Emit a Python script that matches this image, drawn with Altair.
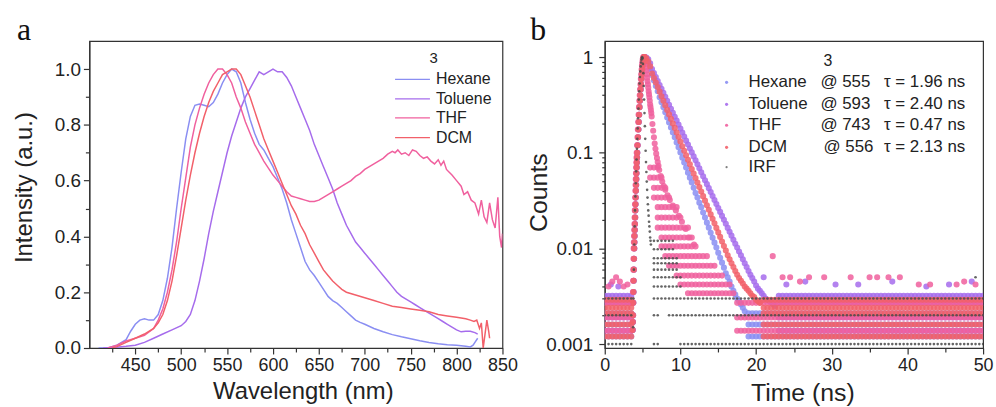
import altair as alt
import pandas as pd

FONT = "Liberation Sans"
SERIF = "Liberation Serif"

# ---------------- Panel a : emission spectra ----------------
solvents = ["Hexane", "Toluene", "THF", "DCM"]
line_colors = ["#8a8ef2", "#a66cec", "#f0609e", "#f2606a"]

hex_wl = [410, 420, 430, 440, 445, 450, 455, 460, 465, 470, 475, 480, 485, 490, 495, 500, 505, 510, 515, 520,
          525, 530, 535, 540, 545, 550, 555, 560, 565, 570, 575, 580, 585, 590, 595, 600, 605, 610, 615, 620,
          625, 630, 635, 640, 645, 650, 655, 660, 665, 670, 675, 680, 685, 690, 695, 700, 710, 720, 730, 740,
          750, 760, 770, 780, 790, 800, 810, 815, 818, 820, 823]
hex_I = [0.0, 0.0, 0.01, 0.03, 0.06, 0.085, 0.1, 0.105, 0.1, 0.1, 0.12, 0.17, 0.25, 0.36, 0.5, 0.63, 0.75, 0.83, 0.87, 0.875,
         0.87, 0.865, 0.88, 0.91, 0.95, 0.98, 1.0, 0.99, 0.95, 0.88, 0.82, 0.77, 0.73, 0.71, 0.68, 0.65, 0.61, 0.57, 0.52, 0.46,
         0.41, 0.36, 0.31, 0.28, 0.26, 0.235, 0.21, 0.185, 0.17, 0.16, 0.145, 0.13, 0.115, 0.1, 0.092, 0.085, 0.07, 0.058, 0.048, 0.04,
         0.033, 0.026, 0.02, 0.015, 0.012, 0.01, 0.006, 0.004, 0.01, 0.02, 0.035]

tol_wl = [415, 430, 440, 450, 460, 470, 480, 490, 500, 505, 510, 515, 520, 525, 530, 535, 540, 545, 550, 555,
          560, 565, 570, 575, 580, 585, 590, 595, 600, 605, 610, 615, 620, 625, 630, 635, 640, 645, 650, 655,
          660, 665, 670, 675, 680, 685, 690, 695, 700, 705, 710, 715, 720, 725, 730, 735, 740, 745, 750, 755,
          760, 765, 770, 775, 780, 785, 790, 795, 800, 805, 810, 815, 820, 823]
tol_I = [0.0, 0.003, 0.006, 0.01, 0.02, 0.035, 0.05, 0.065, 0.08, 0.095, 0.12, 0.17, 0.24, 0.32, 0.41, 0.49, 0.56, 0.63, 0.7, 0.76,
         0.81, 0.86, 0.9, 0.93, 0.96, 0.99, 0.98, 0.99, 1.0, 0.99, 0.99, 0.97, 0.94, 0.9, 0.86, 0.82, 0.78, 0.73, 0.69, 0.65,
         0.61, 0.57, 0.52, 0.48, 0.44, 0.41, 0.38, 0.36, 0.34, 0.32, 0.3, 0.28, 0.26, 0.24, 0.22, 0.2, 0.185, 0.175, 0.165, 0.155,
         0.145, 0.135, 0.125, 0.115, 0.105, 0.095, 0.085, 0.075, 0.065, 0.058, 0.06, 0.06, 0.055, 0.05]

thf_wl = [420, 430, 440, 450, 460, 470, 475, 480, 485, 490, 495, 500, 505, 510, 515, 520, 525, 530, 535, 540,
          545, 550, 555, 560, 565, 570, 575, 580, 585, 590, 595, 600, 605, 610, 615, 620, 625, 630, 635, 640,
          645, 650, 655, 660, 665, 670, 675, 680, 685, 690, 695, 700, 705, 710, 715, 720, 725, 730, 733, 736,
          740, 744, 748, 752, 756, 760, 764, 768, 772, 776, 780, 783, 786, 789, 792, 795, 800, 805, 808, 812,
          816, 820, 824, 827, 830, 833, 836, 839, 842, 845, 847, 849, 850]
thf_I = [0.0, 0.01, 0.025, 0.035, 0.045, 0.07, 0.1, 0.14, 0.2, 0.28, 0.38, 0.5, 0.61, 0.72, 0.8, 0.86, 0.91, 0.95, 0.98, 1.0,
         1.0, 0.98, 0.95, 0.9, 0.86, 0.81, 0.77, 0.73, 0.7, 0.67, 0.645, 0.62, 0.6, 0.58, 0.56, 0.545, 0.54, 0.535, 0.53, 0.525,
         0.525, 0.53, 0.54, 0.55, 0.56, 0.57, 0.58, 0.59, 0.6, 0.615, 0.625, 0.64, 0.65, 0.66, 0.67, 0.68, 0.695, 0.705, 0.7, 0.71,
         0.695, 0.7, 0.69, 0.71, 0.705, 0.69, 0.68, 0.685, 0.67, 0.66, 0.675, 0.655, 0.67, 0.64, 0.63, 0.62, 0.6, 0.58, 0.55, 0.56,
         0.53, 0.52, 0.48, 0.53, 0.47, 0.45, 0.52, 0.46, 0.43, 0.54, 0.4, 0.36, 0.41]

dcm_wl = [425, 430, 440, 450, 460, 470, 475, 480, 485, 490, 495, 500, 505, 510, 515, 520, 525, 530, 535, 540,
          545, 550, 555, 560, 565, 570, 575, 580, 585, 590, 595, 600, 605, 610, 615, 620, 625, 630, 635, 640,
          645, 650, 655, 660, 665, 670, 675, 680, 690, 700, 710, 720, 730, 740, 750, 760, 770, 780, 790, 800,
          810, 815, 819, 822, 825, 827, 829, 831, 833, 835, 836]
dcm_I = [0.0, 0.005, 0.02, 0.035, 0.05, 0.07, 0.09, 0.12, 0.17, 0.24, 0.33, 0.43, 0.53, 0.62, 0.7, 0.77, 0.83, 0.88, 0.92, 0.95,
         0.98, 0.99, 1.0, 1.0, 0.98, 0.94, 0.9, 0.85, 0.8, 0.75, 0.71, 0.67, 0.63, 0.59, 0.55, 0.51, 0.48, 0.44, 0.41, 0.37,
         0.34, 0.31, 0.28, 0.26, 0.24, 0.225, 0.21, 0.2, 0.19, 0.18, 0.17, 0.16, 0.15, 0.145, 0.14, 0.135, 0.13, 0.12, 0.115, 0.11,
         0.105, 0.1, 0.095, 0.1, 0.07, 0.09, 0.0, 0.05, 0.1, 0.06, 0.035]

rows_a = []
for name, wls, vals in zip(solvents, [hex_wl, tol_wl, thf_wl, dcm_wl], [hex_I, tol_I, thf_I, dcm_I]):
    for w, v in zip(wls, vals):
        rows_a.append({"solvent": name, "wl": w, "I": v})
df_a = pd.DataFrame(rows_a)

# ---------------- Panel b : decays ----------------
series_b = ["Hexane", "Toluene", "THF", "DCM"]
dot_colors = ["#7f88f2", "#bf6cf2", "#f46cb6", "#f4625f"]
legend_at = ["@ 555", "@ 593", "@ 743", "@ 556"]
legend_tau = ["\u03c4 = 1.96 ns", "\u03c4 = 2.40 ns", "\u03c4 = 0.47 ns", "\u03c4 = 2.13 ns"]

# common rising edge (ns, normalized counts)
rise_t = [3.7, 3.725, 3.75, 3.775, 3.8, 3.825, 3.85, 3.875, 3.9, 3.925, 3.95, 3.975, 4.0, 4.025, 4.05, 4.075,
          4.1, 4.125, 4.15, 4.175, 4.2, 4.225, 4.25, 4.275, 4.3, 4.35, 4.4, 4.45, 4.5, 4.55, 4.6, 4.65, 4.7,
          4.75, 4.8, 4.85, 4.9, 4.95, 5.0, 5.05, 5.1, 5.15, 5.2, 5.25]
rise_c = [0.0014, 0.0017, 0.002, 0.0027, 0.0035, 0.0046, 0.006, 0.0078, 0.01, 0.0116, 0.0135, 0.0156, 0.018, 0.021, 0.025, 0.029,
          0.034, 0.04, 0.046, 0.053, 0.061, 0.07, 0.079, 0.089, 0.1, 0.12, 0.145, 0.175, 0.21, 0.25, 0.3, 0.35, 0.4,
          0.46, 0.52, 0.59, 0.66, 0.74, 0.82, 0.89, 0.95, 0.99, 1.0, 1.0]

decay_t = [5.5, 5.75, 6.0, 6.25, 6.5, 6.75, 7.0, 7.25, 7.5, 7.75, 8.0, 8.25, 8.5, 8.75, 9.0, 9.25, 9.5, 9.75,
           10.0, 10.25, 10.5, 10.75, 11.0, 11.25, 11.5, 11.75, 12.0, 12.25, 12.5, 12.75, 13.0, 13.25, 13.5, 13.75,
           14.0, 14.25, 14.5, 14.75, 15.0, 15.25, 15.5, 15.75, 16.0, 16.25, 16.5, 16.75, 17.0, 17.25, 17.5, 17.75,
           18.0, 18.25, 18.5, 18.75, 19.0, 19.25, 19.5, 19.75, 20.0, 20.25, 20.5, 20.75, 21.0, 21.25, 21.5, 21.75,
           22.0, 22.25, 22.5]
hex_c = [0.95, 0.85, 0.75, 0.65, 0.57, 0.5, 0.44, 0.38, 0.337, 0.299, 0.265, 0.234, 0.208, 0.184, 0.163, 0.145, 0.128, 0.114,
         0.101, 0.089, 0.079, 0.07, 0.062, 0.055, 0.049, 0.043, 0.038, 0.034, 0.03, 0.027, 0.0237, 0.021, 0.0186, 0.0165,
         0.0146, 0.0129, 0.0115, 0.0102, 0.009, 0.008, 0.0071, 0.0063, 0.0055, 0.005, 0.0045, 0.004, 0.0036, 0.0033, 0.003, 0.0028,
         0.0026, 0.0024, 0.0022]
tol_c = [0.99, 0.95, 0.86, 0.751, 0.682, 0.62, 0.564, 0.512, 0.466, 0.423, 0.385, 0.35, 0.318, 0.289, 0.262, 0.238, 0.217, 0.197,
         0.179, 0.163, 0.148, 0.134, 0.122, 0.111, 0.101, 0.0917, 0.0834, 0.0758, 0.0689, 0.0626, 0.0569, 0.0517, 0.047, 0.0427,
         0.0388, 0.0353, 0.0321, 0.0291, 0.0265, 0.0241, 0.0219, 0.0199, 0.0181, 0.0164, 0.0149, 0.0136, 0.0123, 0.0112, 0.0102, 0.0093,
         0.0085, 0.0077, 0.007, 0.0064, 0.0058, 0.0053, 0.0049, 0.0045, 0.0041, 0.0038, 0.0036, 0.0034, 0.0032, 0.003, 0.0029, 0.0028,
         0.0027, 0.0026, 0.0025]
dcm_c = [0.97, 0.9, 0.8, 0.674, 0.605, 0.542, 0.486, 0.436, 0.39, 0.35, 0.314, 0.281, 0.252, 0.226, 0.202, 0.182, 0.163, 0.146,
         0.131, 0.117, 0.105, 0.094, 0.0844, 0.0757, 0.0678, 0.0608, 0.0545, 0.0489, 0.0438, 0.0393, 0.0352, 0.0316, 0.0283, 0.0254,
         0.0227, 0.0204, 0.0183, 0.0164, 0.0147, 0.0132, 0.0118, 0.0106, 0.0095, 0.0085, 0.0077, 0.007, 0.0064, 0.0058, 0.0053, 0.0049,
         0.0046, 0.0043, 0.004, 0.0038, 0.0036, 0.0034, 0.0032, 0.0031, 0.0029, 0.0028, 0.0027]

thf_t = [5.2, 5.25, 5.3, 5.35, 5.4, 5.45, 5.5, 5.55, 5.6, 5.65, 5.7, 5.75, 5.8, 5.85, 5.9, 5.95, 6.0, 6.05, 6.1, 6.15,
         6.2, 6.3, 6.4, 6.5, 6.6, 6.7, 6.8, 6.9, 7.0, 7.1, 7.2, 7.4, 7.6, 7.8, 8.0, 8.3, 8.6, 9.0, 9.4, 9.8,
         10.2, 10.7, 11.2, 11.8]
thf_c = [1.0, 1.0, 0.96, 0.9, 0.84, 0.78, 0.72, 0.66, 0.61, 0.56, 0.52, 0.48, 0.44, 0.41, 0.38, 0.35, 0.32, 0.3, 0.28, 0.26,
         0.24, 0.2, 0.17, 0.145, 0.125, 0.11, 0.098, 0.088, 0.08, 0.073, 0.066, 0.057, 0.05, 0.045, 0.041, 0.036, 0.032, 0.028, 0.025, 0.022,
         0.019, 0.016, 0.013, 0.011]

# quantised rows of the low-count THF tail: level, first and last time
thf_row_level = [0.07, 0.055, 0.043, 0.034, 0.027, 0.021, 0.0165, 0.013, 0.0105, 0.0083, 0.0066, 0.0052, 0.0042, 0.0034]
thf_row_start = [6.0, 6.0, 6.5, 6.5, 7.0, 7.0, 7.0, 7.5, 7.5, 8.0, 8.5, 9.5, 10.0, 11.0]
thf_row_end = [7.0, 7.5, 8.0, 8.5, 9.5, 10.0, 11.0, 11.5, 12.0, 13.5, 14.5, 15.5, 16.5, 17.0]

# background (noise floor) count levels of each decay, and where the floor resumes after the decay
floor_levels = {
    "Hexane": [0.0012, 0.0016, 0.0021],
    "Toluene": [0.00138, 0.0019, 0.0027, 0.0032],
    "THF": [0.00138, 0.0019, 0.0027],
    "DCM": [0.0012, 0.0016, 0.0021, 0.0024, 0.0029],
}
floor_before = 3.5
floor_after = {"Hexane": 19.0, "Toluene": 23.0, "THF": 17.5, "DCM": 21.0}

# time channels used for the floor rows (ns)
channel_t = [0.0, 0.5, 1.0, 1.5, 2.0, 2.5, 3.0, 3.5, 4.0, 4.5, 5.0, 5.5, 6.0, 6.5, 7.0, 7.5, 8.0, 8.5, 9.0, 9.5,
             10.0, 10.5, 11.0, 11.5, 12.0, 12.5, 13.0, 13.5, 14.0, 14.5, 15.0, 15.5, 16.0, 16.5, 17.0, 17.5, 18.0, 18.5,
             19.0, 19.5, 20.0, 20.5, 21.0, 21.5, 22.0, 22.5, 23.0, 23.5, 24.0, 24.5, 25.0, 25.5, 26.0, 26.5, 27.0, 27.5,
             28.0, 28.5, 29.0, 29.5, 30.0, 30.5, 31.0, 31.5, 32.0, 32.5, 33.0, 33.5, 34.0, 34.5, 35.0, 35.5, 36.0, 36.5,
             37.0, 37.5, 38.0, 38.5, 39.0, 39.5, 40.0, 40.5, 41.0, 41.5, 42.0, 42.5, 43.0, 43.5, 44.0, 44.5, 45.0, 45.5,
             46.0, 46.5, 47.0, 47.5, 48.0, 48.5, 49.0, 49.5, 50.0]

# isolated noise counts above the floor
spike_series = ["THF"] * 22 + ["Toluene"] * 11
spike_t = [0.5, 1.0, 1.5, 2.0, 2.5, 3.0, 22.2, 23.5, 24.5, 25.8, 27.0, 29.0, 32.5, 35.0, 36.0, 37.5, 39.0, 41.5, 43.0, 46.5, 47.5, 49.0,
           0.8, 1.8, 21.0, 24.0, 26.5, 30.5, 33.5, 38.0, 42.5, 45.5, 48.5]
spike_c = [0.004, 0.0045, 0.005, 0.0045, 0.004, 0.0042, 0.0083, 0.005, 0.005, 0.0045, 0.005, 0.005, 0.005, 0.005, 0.005, 0.005, 0.005,
           0.0042, 0.0042, 0.0042, 0.0045, 0.0042,
           0.0042, 0.004, 0.005, 0.0042, 0.0045, 0.0042, 0.0042, 0.0045, 0.004, 0.0042, 0.0045]

# instrument response function
irf_t = [3.75, 3.8, 3.85, 3.9, 3.95, 4.0, 4.05, 4.1, 4.15, 4.2, 4.25, 4.3, 4.35, 4.4, 4.45, 4.5, 4.55, 4.6, 4.65, 4.7,
         4.75, 4.8, 4.85, 4.9, 4.95, 5.0, 5.05, 5.1, 5.15, 5.2, 5.25, 5.3, 5.35, 5.4, 5.45, 5.5, 5.55, 5.6, 5.65, 5.7,
         5.75, 5.8, 5.85, 5.9, 5.95, 6.0, 6.05, 6.1]
irf_c = [0.0015, 0.003, 0.006, 0.011, 0.017, 0.025, 0.035, 0.048, 0.064, 0.085, 0.11, 0.14, 0.18, 0.23, 0.29, 0.36, 0.44, 0.53, 0.62, 0.71,
         0.8, 0.88, 0.94, 0.98, 1.0, 0.97, 0.85, 0.68, 0.5, 0.36, 0.26, 0.19, 0.14, 0.105, 0.08, 0.063, 0.05, 0.041, 0.034, 0.029,
         0.025, 0.022, 0.019, 0.017, 0.015, 0.013, 0.012, 0.011]
irf_row_level = [0.012, 0.0098, 0.0079, 0.007, 0.006, 0.005, 0.004, 0.003, 0.003, 0.002, 0.002, 0.002, 0.001, 0.001, 0.001]
irf_row_start = [6.5, 6.5, 6.5, 6.5, 6.5, 6.5, 6.5, 0.0, 6.5, 0.0, 6.5, 8.5, 0.0, 6.5, 10.0]
irf_row_end = [9.0, 9.0, 9.5, 9.5, 9.5, 10.0, 10.0, 3.5, 50.0, 3.5, 7.0, 50.0, 3.5, 7.0, 50.0]
irf_spike_t = [49.0]
irf_spike_c = [0.005]

y_ticks_b = [0.001, 0.002, 0.003, 0.004, 0.005, 0.006, 0.007, 0.008, 0.009,
             0.01, 0.02, 0.03, 0.04, 0.05, 0.06, 0.07, 0.08, 0.09,
             0.1, 0.2, 0.3, 0.4, 0.5, 0.6, 0.7, 0.8, 0.9, 1]
x_ticks_b = [0, 5, 10, 15, 20, 25, 30, 35, 40, 45, 50]
x_ticks_a = [425, 450, 475, 500, 525, 550, 575, 600, 625, 650, 675, 700, 725, 750, 775, 800, 825, 850]
y_ticks_a = [0.0, 0.1, 0.2, 0.3, 0.4, 0.5, 0.6, 0.7, 0.8, 0.9, 1.0]

# ---- build panel-b table ----
rows_b = []
z = {s: i for i, s in enumerate(series_b)}
for s in series_b:
    if s != "THF":
        for t, c in zip(rise_t, rise_c):
            rows_b.append({"series": s, "t": t, "c": c, "z": z[s]})
for s, vals in [("Hexane", hex_c), ("Toluene", tol_c), ("DCM", dcm_c)]:
    for t, c in zip(decay_t, vals):
        rows_b.append({"series": s, "t": t, "c": c, "z": z[s]})
for t, c in zip([x - 0.08 for x in rise_t], rise_c):
    rows_b.append({"series": "THF", "t": t, "c": c, "z": z["THF"]})
for t, c in zip(thf_t, thf_c):
    rows_b.append({"series": "THF", "t": t, "c": c, "z": z["THF"]})
for lev, a, b in zip(thf_row_level, thf_row_start, thf_row_end):
    for t in channel_t:
        if a <= t <= b:
            rows_b.append({"series": "THF", "t": t, "c": lev, "z": z["THF"]})
for s in series_b:
    for lev in floor_levels[s]:
        for t in channel_t:
            if t <= floor_before or t >= floor_after[s]:
                rows_b.append({"series": s, "t": t, "c": lev, "z": z[s]})
for s, t, c in zip(spike_series, spike_t, spike_c):
    rows_b.append({"series": s, "t": t, "c": c, "z": z[s]})
df_b = pd.DataFrame(rows_b)

rows_irf = [{"t": t, "c": c} for t, c in zip(irf_t, irf_c)]
for lev, a, b in zip(irf_row_level, irf_row_start, irf_row_end):
    for t in channel_t:
        if a <= t <= b:
            rows_irf.append({"t": t, "c": lev})
for t, c in zip(irf_spike_t, irf_spike_c):
    rows_irf.append({"t": t, "c": c})
df_irf = pd.DataFrame(rows_irf)

# ---------------- encodings ----------------
def xa(field):
    return alt.X(field, type="quantitative",
                 scale=alt.Scale(domain=[400, 850], nice=False, zero=False),
                 axis=alt.Axis(values=x_ticks_a, title="Wavelength (nm)",
                               labelExpr="datum.value % 50 === 0 ? datum.label : ''",
                               tickSize={"condition": {"test": "datum.value % 50 === 0", "value": 6}, "value": 4},
                               labelFlush=False, labelOverlap=False, labelPadding=3, labelFontSize=18,
                               titleX=215, titleY=51, titleBaseline="alphabetic", titleAnchor="middle"))

def ya(field):
    return alt.Y(field, type="quantitative",
                 scale=alt.Scale(domain=[0, 1.1], nice=False),
                 axis=alt.Axis(values=y_ticks_a, title="Intensity (a.u.)", format=".1f",
                               labelExpr="round(datum.value*10) % 2 === 0 ? datum.label : ''",
                               tickSize={"condition": {"test": "round(datum.value*10) % 2 === 0", "value": 6}, "value": 4},
                               labelFlush=False, labelOverlap=False, labelPadding=3,
                               titleX=-58, titleY=147, titleBaseline="alphabetic", titleAnchor="middle"))

def xb(field):
    return alt.X(field, type="quantitative",
                 scale=alt.Scale(domain=[0, 50], nice=False, zero=False),
                 axis=alt.Axis(values=x_ticks_b, title="Time (ns)",
                               labelExpr="datum.value % 10 === 0 ? datum.label : ''",
                               tickSize={"condition": {"test": "datum.value % 10 === 0", "value": 6}, "value": 4},
                               labelFlush=False, labelOverlap=False, labelPadding=3, labelFontSize=18, titleFontSize=25,
                               titleX=199, titleY=53, titleBaseline="alphabetic", titleAnchor="middle"))

DECADE = "abs(log(datum.value)/LN10 - round(log(datum.value)/LN10)) < 0.000001"

def yb(field):
    return alt.Y(field, type="quantitative",
                 scale=alt.Scale(type="log", domain=[0.00091, 1.47], nice=False),
                 axis=alt.Axis(values=y_ticks_b, title="Counts",
                               labelExpr="(" + DECADE + ") ? format(datum.value, '~g') : ''",
                               tickSize={"condition": {"test": DECADE, "value": 6}, "value": 3},
                               labelFlush=False, labelOverlap=False, labelPadding=6, titleFontSize=25,
                               titleX=-59, titleY=152, titleBaseline="alphabetic", titleAnchor="middle"))

color_a = alt.Color("solvent:N", scale=alt.Scale(domain=solvents, range=line_colors), legend=None)
color_b = alt.Color("series:N", scale=alt.Scale(domain=series_b, range=dot_colors), legend=None)

# ---------------- panel a ----------------
lines = alt.Chart(df_a).mark_line(strokeWidth=1.5, clip=True).encode(
    x=xa("wl"), y=ya("I"), color=color_a, detail="solvent:N")

LEG_A_Y = [0.963, 0.893, 0.825, 0.754]
leg_a = pd.DataFrame({"solvent": solvents, "wl_start": [733] * 4, "wl_end": [771] * 4,
                      "wl": [777.5] * 4, "I": LEG_A_Y})
leg_a_rules = alt.Chart(leg_a).mark_rule(strokeWidth=1.4).encode(
    x=xa("wl_start"), x2="wl_end:Q", y=ya("I"), color=color_a)
leg_a_text = alt.Chart(leg_a).mark_text(align="left", baseline="middle", font=FONT, fontSize=16, color="#222").encode(
    x=xa("wl"), y=ya("I"), text="solvent:N")
leg_a_title = alt.Chart(pd.DataFrame({"wl": [775], "I": [1.038], "txt": ["3"]})).mark_text(
    align="center", baseline="middle", font=FONT, fontSize=15, color="#222").encode(x=xa("wl"), y=ya("I"), text="txt:N")
label_a = alt.Chart(pd.DataFrame({"txt": ["a"]})).mark_text(
    align="left", baseline="alphabetic", font=SERIF, fontSize=32, color="#111").encode(
    text="txt:N", x=alt.value(-73), y=alt.value(-1))

left = alt.layer(lines, leg_a_rules, leg_a_text, leg_a_title, label_a).properties(width=416, height=309)

# ---------------- panel b ----------------
dots = alt.Chart(df_b).mark_circle(size=38, opacity=0.85, clip=True).encode(
    x=xb("t"), y=yb("c"), color=color_b, order=alt.Order("z:Q"))
irf = alt.Chart(df_irf).mark_circle(size=7, opacity=0.85, color="#4a4a4a", clip=True).encode(
    x=xb("t"), y=yb("c"))

LEG_B_C = [0.545, 0.321, 0.194, 0.114]
leg_b = pd.DataFrame({"series": series_b, "at": legend_at, "tau": legend_tau, "c": LEG_B_C,
                      "t_mark": [16.1] * 4, "t_name": [19.0] * 4, "t_at": [28.5, 28.5, 28.5, 28.9], "t_tau": [36.9] * 4})
leg_b_marks = alt.Chart(leg_b).mark_circle(size=10, opacity=0.9).encode(x=xb("t_mark"), y=yb("c"), color=color_b)
leg_b_names = alt.Chart(leg_b).mark_text(align="left", baseline="middle", font=FONT, fontSize=17, color="#222").encode(
    x=xb("t_name"), y=yb("c"), text="series:N")
leg_b_at = alt.Chart(leg_b).mark_text(align="left", baseline="middle", font=FONT, fontSize=17, color="#222").encode(
    x=xb("t_at"), y=yb("c"), text="at:N")
leg_b_tau = alt.Chart(leg_b).mark_text(align="left", baseline="middle", font=FONT, fontSize=17, color="#222").encode(
    x=xb("t_tau"), y=yb("c"), text="tau:N")
leg_irf = pd.DataFrame({"t_mark": [16.1], "t_name": [19.0], "c": [0.0708], "name": ["IRF"]})
leg_irf_mark = alt.Chart(leg_irf).mark_circle(size=5, color="#4a4a4a").encode(x=xb("t_mark"), y=yb("c"))
leg_irf_name = alt.Chart(leg_irf).mark_text(align="left", baseline="middle", font=FONT, fontSize=17, color="#222").encode(
    x=xb("t_name"), y=yb("c"), text="name:N")
leg_b_title = alt.Chart(pd.DataFrame({"t": [29.5], "c": [0.92], "txt": ["3"]})).mark_text(
    align="center", baseline="middle", font=FONT, fontSize=16, color="#222").encode(x=xb("t"), y=yb("c"), text="txt:N")
label_b = alt.Chart(pd.DataFrame({"txt": ["b"]})).mark_text(
    align="left", baseline="alphabetic", font=SERIF, fontSize=32, color="#111").encode(
    text="txt:N", x=alt.value(-75), y=alt.value(-1))

right = alt.layer(dots, irf, leg_b_marks, leg_b_names, leg_b_at, leg_b_tau, leg_irf_mark, leg_irf_name,
                  leg_b_title, label_b).properties(width=381, height=309)

chart = alt.hconcat(left, right, spacing=7).properties(
    padding={"left": 12, "top": 12, "right": 2, "bottom": 2}, background="white"
).configure_axis(
    labelFont=FONT, titleFont=FONT, labelFontSize=19, titleFontSize=24, labelColor="#222", titleColor="#222",
    titleFontWeight="normal", domainColor="#333", tickColor="#333", domainWidth=1.2, tickWidth=1.2, grid=False
).configure_view(stroke="#333", strokeWidth=1.2)

chart.save("out.html", embed_options={"renderer": "svg", "actions": False})
